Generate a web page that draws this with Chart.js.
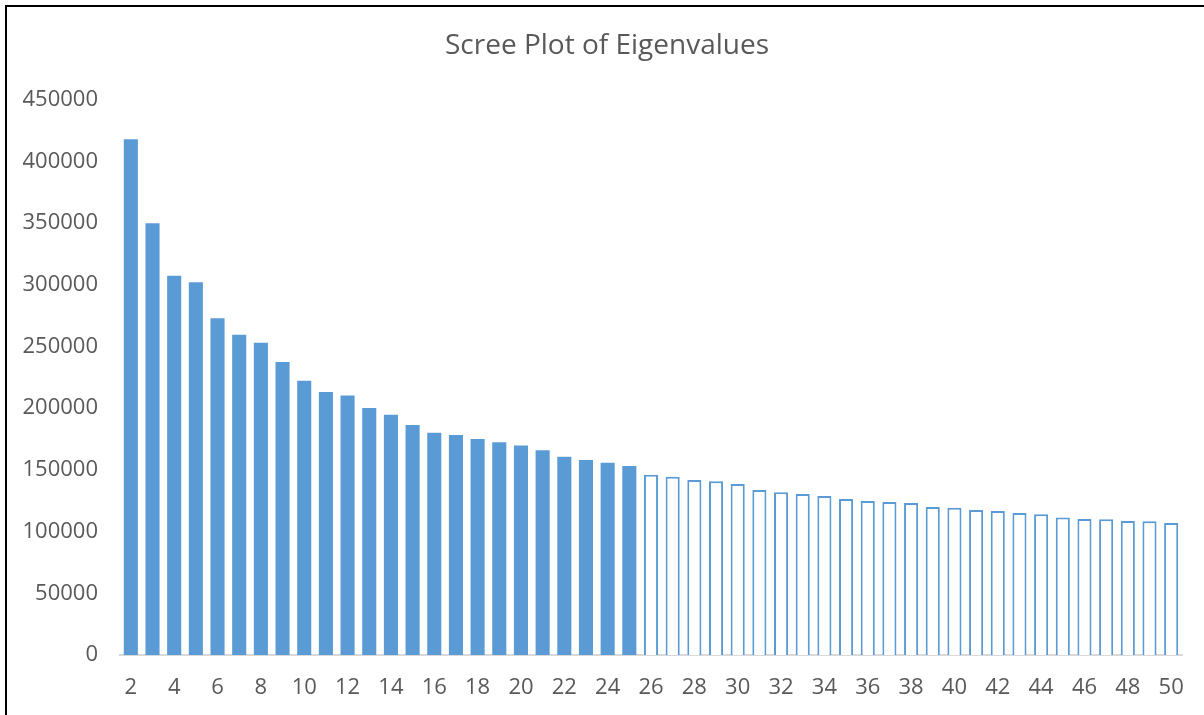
<!DOCTYPE html>
<html>
<head>
<meta charset="utf-8">
<script src="https://cdn.jsdelivr.net/npm/chart.js@4/dist/chart.umd.min.js"></script>
<style>
  html, body { margin: 0; padding: 0; background: #ffffff; }
  #wrap { position: relative; width: 1204px; height: 715px; overflow: hidden; background: #ffffff; }
  #frame { position: absolute; left: 5px; top: 5px; width: 1300px; height: 800px;
           border-left: 2px solid #000; border-top: 2px solid #000; pointer-events: none; }
  canvas { position: absolute; left: 0; top: 0; }
</style>
</head>
<body>
<div id="wrap">
  <canvas id="chart" width="1204" height="715"></canvas>
  <div id="frame"></div>
</div>
<script>
// ---- data ----
const chartTitle = "Scree Plot of Eigenvalues";
const components = [2,3,4,5,6,7,8,9,10,11,12,13,14,15,16,17,18,19,20,21,22,23,24,25,26,
                    27,28,29,30,31,32,33,34,35,36,37,38,39,40,41,42,43,44,45,46,47,48,49,50];
const eigenvalues = [417800, 349800, 307200, 302000, 272900, 259400, 252900, 237300, 222200, 213000,
                     210300, 200100, 194700, 186300, 180100, 178200, 175000, 172300, 169800, 165800,
                     160700, 158000, 155800, 153100,
                     146100, 144500, 141800, 140700, 138600, 133700, 131800, 130500, 128900, 126400,
                     124800, 124000, 123200, 120000, 119400, 117500, 116700, 115100, 114000, 111500,
                     110200, 109900, 108600, 108300, 107000];
const lastRetainedComponent = 25;   // filled bars up to this component, outlined after
const yTicks = [0, 50000, 100000, 150000, 200000, 250000, 300000, 350000, 400000, 450000];

// ---- styles ----
const blue = "#5B9BD5";
const textColor = "#595959";
const fontFamily = "'Open Sans', 'Noto Sans', sans-serif";

const isRetained = (ctx) => components[ctx.dataIndex] <= lastRetainedComponent;

new Chart(document.getElementById("chart"), {
  type: "bar",
  data: {
    labels: components.map(String),
    datasets: [{
      label: "Eigenvalue",
      data: eigenvalues,
      backgroundColor: (ctx) => isRetained(ctx) ? blue : "#ffffff",
      borderColor: blue,
      borderWidth: (ctx) => isRetained(ctx) ? 0 : 2,
      borderSkipped: "start",
      barPercentage: 0.65,
      categoryPercentage: 1.0
    }]
  },
  options: {
    responsive: false,
    animation: false,
    devicePixelRatio: 1,
    layout: { padding: { left: 10, right: 0, top: 0, bottom: 14 } },
    plugins: {
      legend: { display: false },
      tooltip: { enabled: false },
      title: {
        display: true,
        text: chartTitle,
        color: textColor,
        font: { family: fontFamily, size: 28, weight: "normal", lineHeight: 1.2 },
        padding: { top: 29, bottom: 37 }
      }
    },
    scales: {
      x: {
        afterFit: (axis) => { axis.height = 46; },
        grid: { display: false, drawTicks: false },
        border: { display: true, color: "#D9D9D9", width: 2 },
        ticks: {
          autoSkip: false,
          maxRotation: 0,
          minRotation: 0,
          padding: 20,
          color: textColor,
          font: { family: fontFamily, size: 22, lineHeight: 1.2 },
          callback: function (value, index) {
            return index % 2 === 0 ? components[index] : "";
          }
        }
      },
      y: {
        min: yTicks[0],
        max: yTicks[yTicks.length - 1],
        afterBuildTicks: (axis) => { axis.ticks = yTicks.map(v => ({ value: v })); },
        afterFit: (axis) => { axis.width = 110; },
        grid: { display: false, drawTicks: false },
        border: { display: false },
        ticks: {
          padding: 22,
          color: textColor,
          font: { family: fontFamily, size: 22, lineHeight: 1.2 },
          callback: (v) => String(v)
        }
      },
      yRightSpacer: {
        type: "linear",
        position: "right",
        display: true,
        afterFit: (axis) => { axis.width = 22; },
        grid: { display: false, drawTicks: false },
        border: { display: false },
        ticks: { display: false }
      }
    }
  }
});
</script>
</body>
</html>
